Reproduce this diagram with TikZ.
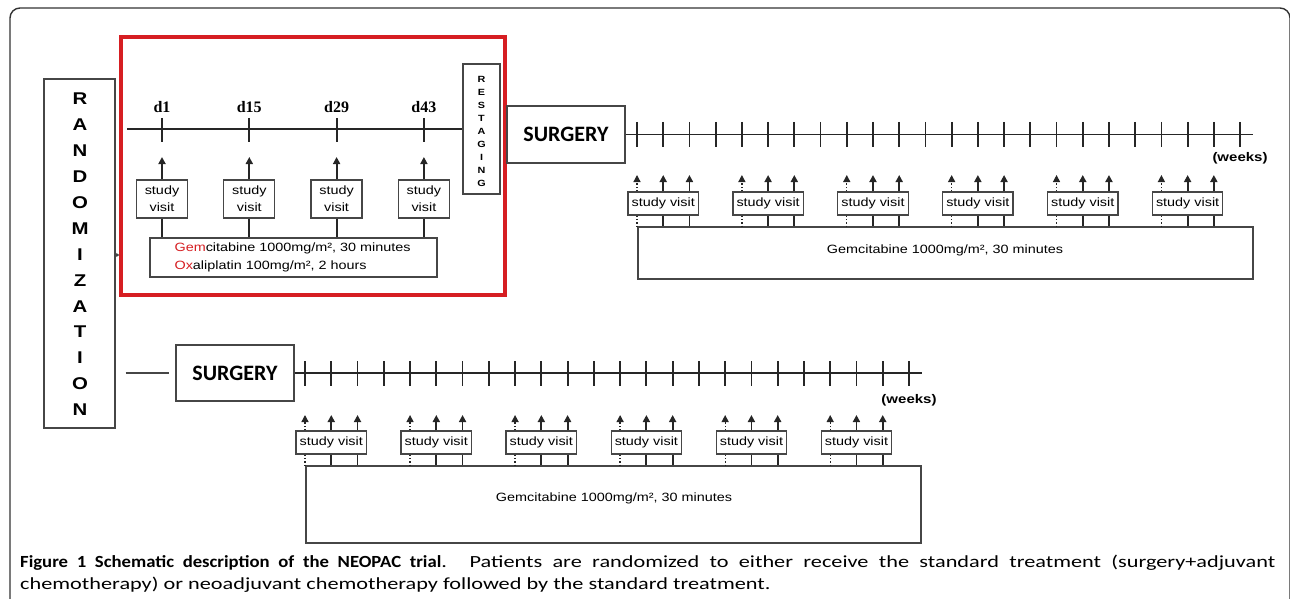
\documentclass[tikz,border=0pt]{standalone}
\usepackage{fontspec}
\setmainfont[FakeStretch=1.2]{Liberation Sans}
\newfontfamily\dayfont{Liberation Serif}
\newfontfamily\surgfont{Carlito}
\newfontfamily\capfont[FakeStretch=1.31]{Carlito}
\newfontfamily\capboldfont[FakeStretch=1.1]{Carlito}
\usetikzlibrary{positioning,calc,arrows.meta}
\definecolor{neored}{RGB}{214,30,34}
\definecolor{linegray}{RGB}{70,70,70}

\tikzset{
	box/.style={draw=linegray, line width=1.3pt, fill=white, inner sep=0pt},
	letters/.style={font=\bfseries\fontsize{17}{17}\selectfont, inner sep=0pt},
	smallletters/.style={font=\bfseries\fontsize{9}{9}\selectfont, inner sep=0pt},
	axis/.style={draw=black!85, line width=1.8pt},
	tick/.style={draw=black!85, line width=1.8pt},
	dotline/.style={draw=black!85, line width=1.3pt, dotted},
	visit/.style={box, minimum width=70.4pt, minimum height=23pt, font=\fontsize{12}{14}\selectfont},
	up/.style={draw=black!85, line width=1.8pt, -{Triangle[length=7pt,width=7pt]}},
	dotup/.style={dotline, -{Triangle[length=7pt,width=7pt]}},
	surgery/.style={box, minimum width=118pt, minimum height=57pt, font=\surgfont\bfseries\fontsize{22}{24}\selectfont},
	weeks/.style={font=\bfseries\fontsize{12.5}{14}\selectfont, inner sep=0pt},
	drug/.style={font=\fontsize{12}{18}\selectfont, inner sep=0pt},
}

\begin{document}
\begin{tikzpicture}[x=1pt,y=-1pt]
	\useasboundingbox (0,0) rectangle (1290,599);
	\draw[draw=black!80, line width=1.4pt, rounded corners=10pt] (10,620) -- (10,8) -- (1290,8) -- (1290,620);

	% randomization
	\node[box, minimum width=71pt, minimum height=349pt] (rand) at (79.5,253.5) {};
	\foreach \l [count=\i from 0] in {R,A,N,D,O,M,I,Z,A,T,I,O,N}
		\node[letters] (rand\i) at (80,{99+25.9*\i}) {\l};

	% neoadjuvant arm
	\node[draw=neored, line width=3.5pt, minimum width=384pt, minimum height=258pt, inner sep=0pt] (neo) at (313,166) {};
	\coordinate (randout) at (rand.east |- 0,255);
	\draw[linegray, line width=1.3pt, -{Triangle[length=3pt,width=4pt]}] (randout) -- (randout -| neo.west);
	\node[box, minimum width=37pt, minimum height=130pt] (restage) at (481.5,129) {};
	\foreach \l [count=\i from 0] in {R,E,S,T,A,G,I,N,G}
		\node[smallletters] (restage\i) at (481.5,{79+13*\i}) {\l};
	\coordinate (neostart) at (127,129);
	\draw[axis] (neostart) -- (restage.west);
	\node[box, minimum width=287pt, minimum height=39pt] (chemo) at (293.5,257.5) {};
	\node[drug, align=left, anchor=west] (chemotext) at ($(chemo.west)+(25,0)$) {{\color{neored}Gem}citabine 1000mg/m², 30 minutes\\{\color{neored}Ox}aliplatin 100mg/m², 2 hours};
	\foreach \d [count=\i from 0] in {1,15,29,43} {
		\coordinate (day\i) at ({162+87.3*\i},129);
		\draw[tick] ($(day\i)+(0,-11)$) -- ($(day\i)+(0,13)$);
		\node[font=\dayfont\bfseries\fontsize{16}{16}\selectfont] (dlabel\i) at ({162+87.3*\i},107) {d\d};
		\node[box, minimum width=51pt, minimum height=38pt, align=center, font=\fontsize{12}{17}\selectfont] (nvisit\i) at ({162+87.3*\i},199) {study\\visit};
		\coordinate (ntip\i) at ({162+87.3*\i},157);
		\draw[up] (nvisit\i) -- (ntip\i);
		\draw[tick] (nvisit\i.south) -- (nvisit\i.south |- chemo.north);
	}

	% surgery after neoadjuvant
	\node[surgery] (surgA) at (566,134.5) {SURGERY};
	\coordinate (weekendA) at (1253,134.5);
	\draw[axis] (surgA.east) -- (weekendA);
	\foreach \i in {0,...,23}
		\draw[tick] ({637+26.22*\i},122) -- ({637+26.22*\i},147);
	\node[weeks] (weeksA) at (1240,158) {(weeks)};
	\node[box, minimum width=615pt, minimum height=52pt] (gemA) at (945.5,253) {};
	\node[drug] (gemAtext) at (945,250) {Gemcitabine 1000mg/m², 30 minutes};
	\foreach \g in {0,...,5} {
		\node[visit] (visitA\g) at ({663.22+104.88*\g},203.5) {study visit};
		\foreach \k in {0,1,2}
			\coordinate (tipA\g\k) at ({637+104.88*\g+26.22*\k},175);
		\draw[dotup] (tipA\g0 |- visitA\g.north) -- (tipA\g0);
		\draw[dotline] (tipA\g0 |- visitA\g.south) -- (tipA\g0 |- gemA.north);
		\foreach \k in {1,2} {
			\draw[up] (tipA\g\k |- visitA\g.north) -- (tipA\g\k);
			\draw[tick] (tipA\g\k |- visitA\g.south) -- (tipA\g\k |- gemA.north);
		}
	}

	% standard arm
	\node[surgery, minimum height=56pt] (surgB) at (235,373) {SURGERY};
	\draw[linegray, line width=1.5pt, shorten <=10pt, shorten >=6pt] (rand.east |- surgB.west) -- (surgB.west);
	\coordinate (weekendB) at (922,373);
	\draw[axis] (surgB.east) -- (weekendB);
	\foreach \i in {0,...,23}
		\draw[tick] ({305+26.26*\i},361) -- ({305+26.26*\i},386);
	\node[weeks] (weeksB) at (909,400) {(weeks)};
	\node[box, minimum width=615pt, minimum height=77pt] (gemB) at (613.5,504.5) {};
	\node[drug] (gemBtext) at (614,498) {Gemcitabine 1000mg/m², 30 minutes};
	\foreach \g in {0,...,5} {
		\node[visit] (visitB\g) at ({331.26+105.04*\g},442.5) {study visit};
		\foreach \k in {0,1,2}
			\coordinate (tipB\g\k) at ({305+105.04*\g+26.26*\k},415);
		\draw[dotup] (tipB\g0 |- visitB\g.north) -- (tipB\g0);
		\draw[dotline] (tipB\g0 |- visitB\g.south) -- (tipB\g0 |- gemB.north);
		\foreach \k in {1,2} {
			\draw[up] (tipB\g\k |- visitB\g.north) -- (tipB\g\k);
			\draw[tick] (tipB\g\k |- visitB\g.south) -- (tipB\g\k |- gemB.north);
		}
	}

	\node[anchor=north west, text width=1255pt, align=justify, inner sep=0pt, font=\capfont\fontsize{17}{22}\selectfont] (caption) at (20,555) {{\capboldfont\bfseries Figure 1 Schematic description of the NEOPAC trial}. Patients are randomized to either receive the standard treatment (surgery+adjuvant\linebreak chemotherapy) or neoadjuvant chemotherapy followed by the standard treatment.};
\end{tikzpicture}
\end{document}
